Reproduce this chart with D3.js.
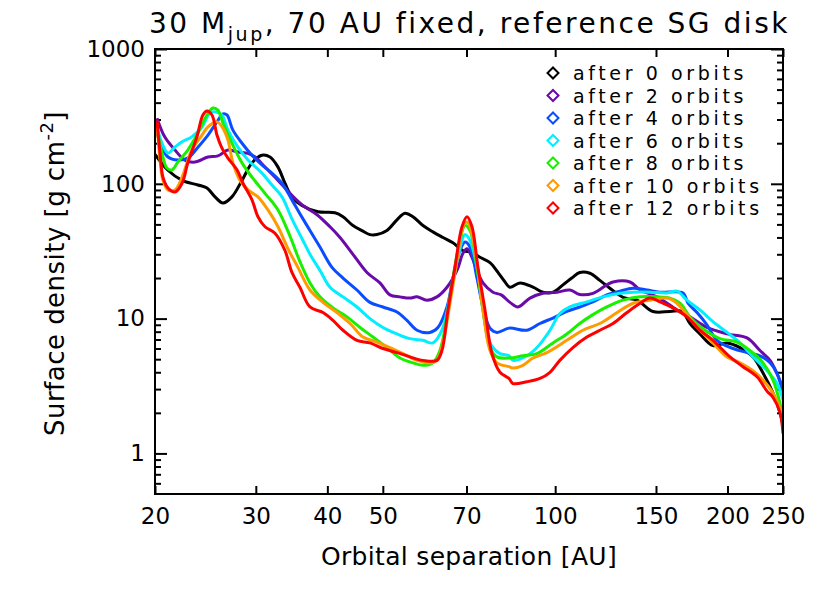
<!DOCTYPE html>
<html>
<head>
<meta charset="utf-8">
<script src="https://cdn.jsdelivr.net/npm/d3@7"></script>
<style>
body { margin: 0; background: #fff; }
text { font-family: "DejaVu Sans", sans-serif; fill: #000; }
</style>
</head>
<body>
<svg id="chart" width="830" height="593"></svg>
<script>
// surface density profiles [orbital separation AU, sigma g/cm^2]
var orbits0 = [[20,165],[21.07,126],[22.3,106],[23.77,98],[24.65,93],[25.46,80],[26.29,72],[27.25,80],[28.38,106],
  [29.54,143],[30.75,163],[31.76,158],[32.8,133],[33.73,101],[34.69,80],[36.11,69],[38.52,62],[41.25,61],[42.6,57],
  [44.34,49],[45.97,45],[47.47,42],[48.83,42],[50.83,45],[52.92,54],[54.66,60.5],[56.44,57],[58.76,49],[61.16,44],
  [63.68,40],[66.3,36.5],[69.01,32],[71.56,31],[73.9,28.5],[76.93,26],[79.45,22],[81.5,19],[83.37,17.1],[86.8,18.4],
  [91.46,17.1],[95.22,15.7],[99.12,15.7],[103.2,17.8],[106.9,20],[110.4,22],[115,21.7],[119.7,19.2],[124.6,16.8],
  [131.4,14.4],[139,13.7],[148.2,11.3],[158.7,11.3],[166.5,11.3],[172,9.2],[179,7.7],[188.6,6.3],[199.6,6.6],
  [210.3,6.1],[221.6,5.2],[230.7,3.95],[240.2,2.8],[247.1,2.0],[250,1.6]];
var orbits2 = [[20.16,307],[20.81,222],[21.67,178],[22.55,150],[23.48,145],[24.75,158],[25.76,161],[26.82,178],
  [27.92,172],[29.07,168],[29.9,158],[31.13,133],[32.8,106],[34.69,82],[36.26,69],[38.37,59],[40.43,48],[42.09,40],
  [44.34,30],[46.91,22],[49.42,18.4],[51.45,15],[53.57,14.5],[55.77,14.2],[57.36,14.5],[59.71,13.7],[62.15,14.5],
  [64.72,17.1],[67.37,22.8],[69.01,30.5],[70.14,33],[71.56,28.5],[73.01,22.8],[74.8,18.4],[77.86,15.7],[80.5,15],
  [83.37,13.2],[86.11,12.2],[90.36,14.2],[95.22,15.4],[100.7,15.7],[106.1,16.3],[110.4,15.1],[116.4,15.4],
  [123.1,17.8],[126.2,18.7],[135.1,18.7],[140.7,16.3],[150.6,14.5],[163.2,11.6],[172,10.3],[184.1,8.6],[199.6,7.7],
  [216.3,7.2],[227.9,5.8],[237.3,4.9],[244.1,3.9],[250,3.0]];
var orbits4 = [[20.16,238],[20.57,187],[21.07,158],[21.93,150],[22.82,155],[23.77,187],[24.75,230],[25.66,288],
  [26.29,330],[26.71,324],[27.36,250],[28.38,200],[29.54,163],[30.75,138],[32.01,120],[33.33,101],[34.69,76],
  [35.82,60],[37.3,45],[38.83,34],[40.75,24],[42.6,20],[45.06,16.3],[47.47,13.2],[50.02,12.2],[52.92,11.2],
  [55.1,9.7],[57.36,8.2],[60.43,7.9],[62.41,8.6],[64.72,12.2],[66.3,20],[68.19,32],[69.57,37],[70.99,34],
  [73.01,20],[74.8,12.2],[76.93,8.5],[79.13,7.9],[83.04,8.5],[89.27,8.2],[94.07,9.2],[99.12,10.1],[104.8,11.3],
  [110.4,12.2],[116.4,13.3],[123.1,15],[129.8,16],[136.8,16.8],[144.7,16.3],[152.5,15.7],[167.2,15.5],[170.6,13],
  [176.9,11.1],[184.1,9],[191.7,6.9],[204.5,6.0],[216.3,5.6],[227.9,5.3],[237.3,4.7],[244.1,3.9],[250,2.8]];
var orbits6 = [[20.16,264],[20.57,200],[21.07,169],[21.67,187],[22.3,205],[23.19,223],[24.16,264],[24.95,335],
  [25.66,340],[26.18,324],[26.82,250],[27.92,187],[29.07,150],[30.75,120],[32.01,98],[33.33,80],[34.69,55],
  [36.26,38],[37.3,30],[38.83,22.8],[40.43,17.1],[42.6,14.5],[45.06,12.2],[47.47,10],[50.02,8.6],[52.92,7.7],
  [55.77,7.1],[58.76,6.9],[61.16,6.6],[63.42,8.2],[65.5,14.5],[67.64,28.5],[69.57,42],[70.99,38],[73.01,24],
  [74.8,11.6],[76.93,6.6],[80.09,5.5],[83.04,5.3],[84.39,4.9],[89.27,5.3],[92.94,6.1],[97.94,8.2],[101.9,10.9],
  [106.1,12.2],[113.6,13.3],[121.2,14.5],[129.8,15.4],[136.8,15.7],[146.4,15.7],[156.8,15.5],[163.2,16],
  [169.9,13.7],[179,11.6],[188.6,9.5],[199.6,7.9],[210.3,6.6],[221.6,5.2],[234.4,4.1],[244.1,3.3],[250,2.5]];
var orbits8 = [[20.16,250],[20.57,169],[20.98,131],[21.42,127],[21.93,145],[22.82,178],[23.77,238],[24.65,324],
  [25.25,365],[25.76,352],[26.29,282],[27.25,200],[28.38,143],[29.54,112],[31.13,85],[32.8,64],[34.41,41],
  [35.82,26.5],[37.3,18.4],[38.83,14.5],[40.92,12],[43.29,10.3],[45.61,8.6],[48.05,7.3],[50.83,6.1],[53.57,5.1],
  [56.44,4.7],[58.76,4.5],[61.16,4.7],[62.91,5.8],[64.72,10.3],[66.3,20],[68.19,38],[69.57,49],[70.99,45],
  [73.01,24],[74.8,11.6],[76.93,6.1],[79.13,5.2],[83.37,5.1],[87.85,5.3],[92.94,5.5],[99.12,6.6],[104.8,7.7],
  [110.4,9.2],[116.4,10.7],[123.1,12.2],[131.4,13.7],[140.7,14.5],[150.6,14.5],[158.7,14.2],[165.2,13],[172,10.3],
  [181.2,8.4],[194,7.1],[207.8,6.7],[218.9,5.8],[230.7,4.7],[240.2,3.5],[250,1.9]];
var orbits10 = [[20.16,282],[20.41,150],[20.65,106],[21.07,90],[21.67,90],[22.3,112],[23.19,178],[24.16,230],
  [24.75,264],[25.66,288],[26.29,258],[26.82,211],[27.36,143],[28.15,106],[29.07,90],[30.26,80],[31.5,64],
  [32.8,48],[34.14,33],[35.53,24],[37.3,16.3],[39.3,13.2],[41.58,11.1],[43.82,9.2],[46.16,7.3],[48.83,6.7],
  [51.45,6.1],[54.22,5.5],[57.36,4.9],[60.43,4.7],[62.15,4.9],[63.68,6.6],[65.5,13],[67.37,27],[69.01,48],
  [70.14,52],[70.99,48],[73.01,25.8],[74.8,11.6],[76.93,5.8],[79.13,4.7],[83.04,4.4],[84.39,4.3],[87.85,4.5],
  [91.46,5.1],[96.76,5.6],[104.8,6.9],[111.8,8.2],[119.7,9.2],[128.3,11.1],[136.8,13],[146.4,13.7],[156.8,14.2],
  [163.2,13],[169.9,10.7],[179,8.2],[188.6,6.6],[199.6,5.2],[210.3,4.7],[221.6,4.1],[230.7,3.5],[240.2,2.8],[250,1.9]];
var orbits12 = [[20.16,296],[20.41,169],[20.65,112],[21.07,93],[21.67,87],[22.3,101],[22.82,143],[23.67,223],
  [24.25,324],[24.65,347],[25.15,324],[25.66,230],[26.18,184],[26.82,155],[27.81,127],[28.49,101],[29.54,76],
  [30.26,57],[31.13,48],[32.4,43],[33.73,32],[34.69,22],[35.82,17.1],[37.3,12.2],[39.3,11.1],[40.92,9.7],
  [42.6,8.2],[45.06,6.9],[47.47,6.6],[50.02,6.0],[52.92,5.6],[55.77,5.2],[58.76,4.9],[62.15,4.9],[63.42,5.8],
  [64.97,11.6],[66.83,24],[68.74,48],[70.14,57],[71.56,48],[73.3,24],[75.4,11.6],[77.55,5.5],[80.09,4.0],
  [83.04,3.6],[84.39,3.3],[89.27,3.4],[94.07,3.6],[97.94,4.0],[101.9,4.9],[107.4,6.1],[113.6,7.3],[119.7,8.2],
  [126.2,9.2],[133.5,11.1],[140.7,13],[146.4,14.2],[152.5,13.3],[160.6,12],[169.9,10.3],[179,8.2],[188.6,6.9],
  [202,5.2],[212.8,4.4],[225.2,3.7],[234.4,2.9],[240.2,2.6],[247.1,2.0],[250,1.4]];

var labels = ['after 0 orbits','after 2 orbits','after 4 orbits','after 6 orbits',
  'after 8 orbits','after 10 orbits','after 12 orbits'];
var colors = ['#000000','#6a0aa8','#0a4cff','#00eeff','#19f000','#ff9a00','#ff0000'];
var profiles = [orbits0, orbits2, orbits4, orbits6, orbits8, orbits10, orbits12];
var xTickValues = [20,30,40,50,70,100,150,200,250];
var yTickValues = [1,10,100,1000];

var margin = {left: 155, right: 47, top: 49, bottom: 99};
var width = 830, height = 593;
var plotW = width - margin.left - margin.right;
var plotH = height - margin.top - margin.bottom;

var svg = d3.select('#chart');
var g = svg.append('g').attr('transform', `translate(${margin.left},${margin.top})`);

var x = d3.scaleLog().domain([20, 250]).range([0, plotW]);
var y = d3.scaleLog().domain([0.5, 1000]).range([plotH, 0]);

var minorY = y.ticks().filter(d => yTickValues.indexOf(d) < 0 && d > 0.5);

g.append('clipPath').attr('id', 'plotclip')
  .append('rect').attr('width', plotW).attr('height', plotH);

// fit text to a measured width by spreading letters
function fit(sel, target) {
  var w = sel.node().getComputedTextLength();
  var n = sel.text().length;
  var ls = (target - w) / n;
  sel.attr('letter-spacing', ls);
  return ls;
}

// axes, ticks pointing inward
function styleAxis(sel) {
  sel.select('.domain').remove();
  sel.selectAll('line').attr('stroke', '#000').attr('stroke-width', 2);
  sel.selectAll('text').attr('font-family', '"DejaVu Sans", sans-serif').attr('font-size', 23).attr('fill', '#000');
}

g.append('g').attr('transform', `translate(0,${plotH})`)
  .call(d3.axisBottom(x).tickValues(xTickValues).tickSizeInner(-8).tickSizeOuter(0).tickPadding(14).tickFormat(d3.format('d')))
  .call(styleAxis);
g.append('g')
  .call(d3.axisTop(x).tickValues(xTickValues).tickSizeInner(-8).tickSizeOuter(0).tickFormat(''))
  .call(styleAxis);
g.append('g')
  .call(d3.axisLeft(y).tickValues(yTickValues).tickSizeInner(-12).tickSizeOuter(0).tickPadding(10).tickFormat(d3.format('d')))
  .call(styleAxis);
g.append('g')
  .call(d3.axisLeft(y).tickValues(minorY).tickSizeInner(-6).tickSizeOuter(0).tickFormat(''))
  .call(styleAxis);
g.append('g').attr('transform', `translate(${plotW},0)`)
  .call(d3.axisRight(y).tickValues(yTickValues).tickSizeInner(-12).tickSizeOuter(0).tickFormat(''))
  .call(styleAxis);
g.append('g').attr('transform', `translate(${plotW},0)`)
  .call(d3.axisRight(y).tickValues(minorY).tickSizeInner(-6).tickSizeOuter(0).tickFormat(''))
  .call(styleAxis);

// curves
var line = d3.line()
  .x(d => x(d[0]))
  .y(d => y(d[1]))
  .curve(d3.curveCatmullRom.alpha(0.5));

g.append('g').attr('clip-path', 'url(#plotclip)')
  .selectAll('path')
  .data(profiles)
  .enter()
  .append('path')
  .attr('d', line)
  .attr('fill', 'none')
  .attr('stroke', (d, i) => colors[i])
  .attr('stroke-width', 3)
  .attr('stroke-linejoin', 'round');

// frame
g.append('rect')
  .attr('width', plotW).attr('height', plotH)
  .attr('fill', 'none').attr('stroke', '#000').attr('stroke-width', 2);

// legend
var legend = svg.append('g').attr('transform', 'translate(553,73)');
var rows = legend.selectAll('g').data(labels).enter().append('g')
  .attr('transform', (d, i) => `translate(0,${i * 22.5})`);
rows.append('path')
  .attr('d', d3.symbol(d3.symbolSquare, 60))
  .attr('transform', 'rotate(45)')
  .attr('fill', 'none')
  .attr('stroke', (d, i) => colors[i])
  .attr('stroke-width', 2);
var legText = rows.append('text')
  .attr('x', 20).attr('y', 7)
  .attr('font-size', 19)
  .text(d => d);
var ls = fit(d3.select(legText.nodes()[0]), 174);
legText.attr('letter-spacing', ls);

// title
var title = svg.append('text').attr('x', 149).attr('y', 33).attr('font-size', 28);
title.append('tspan').text('30 M');
title.append('tspan').attr('font-size', 19).attr('dy', 8).text('jup');
title.append('tspan').attr('dy', -8).text(', 70 AU fixed, reference SG disk');
fit(title, 641);

// axis titles
var xTitle = svg.append('text').attr('x', 321).attr('y', 565).attr('font-size', 25)
  .text('Orbital separation [AU]');
fit(xTitle, 296);

var yTitle = svg.append('text').attr('transform', 'translate(64,436) rotate(-90)').attr('font-size', 26);
yTitle.append('tspan').text('Surface density [g cm');
yTitle.append('tspan').attr('font-size', 18).attr('dy', -11).text('-2');
yTitle.append('tspan').attr('dy', 11).text(']');
fit(yTitle, 325);
</script>
</body>
</html>
